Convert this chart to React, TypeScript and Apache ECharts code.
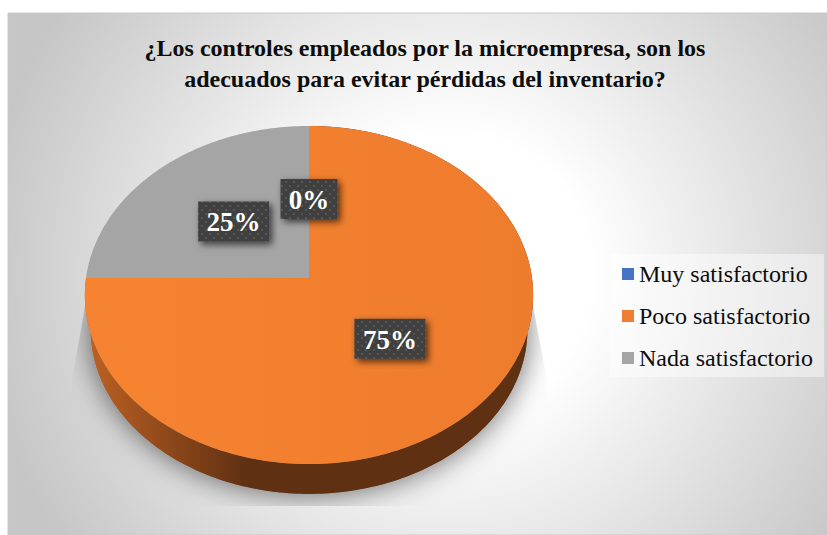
import React, { useEffect, useRef } from "react";
import * as echarts from "echarts";

const categories = ["Muy satisfactorio", "Poco satisfactorio", "Nada satisfactorio"];
const percentages = [0, 75, 25];
const colors = ["#4472C4", "#ED7D31", "#A5A5A5"];
const titleLines = [
  "¿Los controles empleados por la microempresa, son los",
  "adecuados para evitar pérdidas del inventario?",
];

const SERIF = "'Liberation Serif', 'Times New Roman', serif";
const W = 827;
const H = 535;
const CX = 309;
const CY = 278;
const R = 223;
const A = 167.3;
const Q = 0.1006;
const RIM_SCALE = 0.975;
const RIM_DROP = 34.6;
const LABEL_RADIUS = 0.495;

// Tilted disc: a point at fraction r of the radius, at a clockwise angle from 12 o'clock.
const project = (angle: number, r = 1): [number, number] => {
  const u = Math.sin(angle) * r;
  const v = Math.cos(angle) * r;
  const w = 1 + Q * v;
  return [CX + (R * u) / w, CY - (A * v) / w];
};
const lower = (p: [number, number]): [number, number] => [
  CX + RIM_SCALE * (p[0] - CX),
  CY + RIM_SCALE * (p[1] - CY) + RIM_DROP,
];
const arc = (a0: number, a1: number): [number, number][] => {
  const n = Math.max(1, Math.ceil((Math.abs(a1 - a0) * 180) / Math.PI));
  const out: [number, number][] = [];
  for (let i = 0; i <= n; i++) out.push(project(a0 + ((a1 - a0) * i) / n));
  return out;
};

const total = percentages.reduce((s, v) => s + v, 0);
const startOf = (i: number) =>
  (percentages.slice(0, i).reduce((s, v) => s + v, 0) / total) * Math.PI * 2;

const makePattern = () => {
  const c = document.createElement("canvas");
  c.width = 8;
  c.height = 8;
  const g = c.getContext("2d")!;
  g.fillStyle = "#404040";
  g.fillRect(0, 0, 8, 8);
  g.fillStyle = "#565656";
  g.fillRect(1, 1, 2, 2);
  g.fillRect(5, 5, 2, 2);
  return c;
};

export default function App() {
  const ref = useRef<HTMLDivElement>(null);
  useEffect(() => {
    const chart = echarts.init(ref.current!, undefined, { renderer: "svg" });
    const pattern = makePattern();

    const faceFill = new echarts.graphic.LinearGradient(85, 0, 533, 0, [
      { offset: 0, color: "#F58330" },
      { offset: 1, color: "#EE7C2D" },
    ], true);
    const wallFill = new echarts.graphic.LinearGradient(90, 0, 300, 0, [
      { offset: 0, color: "#BC6023" },
      { offset: 0.75, color: "#5F3012" },
      { offset: 1, color: "#5F3012" },
    ], true);

    const makeRender = (index: number) => (_params: any, api: any) => {
      const value = api.value(0) as number;
      const a0 = startOf(index);
      const a1 = a0 + (value / total) * Math.PI * 2;
      const mid = (a0 + a1) / 2;
      const children: any[] = [];

      if (value >= 50) {
        const fullRim = arc(0, Math.PI * 2).map(lower);
        children.push({
          type: "polygon",
          shape: { points: fullRim },
          style: {
            fill: "#8a8a8a",
            shadowBlur: 30,
            shadowColor: "rgba(0,0,0,0.6)",
            shadowOffsetX: 0,
            shadowOffsetY: 0,
          },
          clipPath: {
            type: "polygon",
            shape: {
              points: [[87, 295], [72, 380], [72, 506], [547, 506], [547, 380], [531, 295]],
            },
          },
        });
        const rim = arc(a0, a1);
        children.push({
          type: "polygon",
          shape: { points: [...rim, ...rim.map(lower).reverse()] },
          style: { fill: wallFill },
        });
      }
      if (value > 0) {
        children.push({
          type: "polygon",
          shape: { points: [[CX, CY], ...arc(a0, a1)] },
          style: { fill: index === 1 ? faceFill : colors[index] },
        });
      }

      const [lx, ly] = project(mid, LABEL_RADIUS);
      const text = `${value}%`;
      const bw = 29 + 14 * text.length;
      const bh = 40;
      children.push({
        type: "rect",
        shape: { x: lx - bw / 2, y: ly - bh / 2, width: bw, height: bh },
        style: {
          fill: { image: pattern, repeat: "repeat", imageWidth: 8, imageHeight: 8 },
          shadowBlur: 7,
          shadowColor: "rgba(0,0,0,0.65)",
          shadowOffsetX: 3,
          shadowOffsetY: 3,
        },
      });
      children.push({
        type: "text",
        style: {
          text,
          x: lx,
          y: ly + 1,
          fill: "#FFFFFF",
          font: `bold 27px ${SERIF}`,
          align: "center",
          verticalAlign: "middle",
        },
      });
      return { type: "group", children };
    };

    const seriesZ = [4, 2, 3];
    chart.setOption({
      animation: false,
      backgroundColor: "#FFFFFF",
      color: colors,
      title: {
        text: titleLines.join("\n"),
        left: 420,
        top: 27,
        textAlign: "center",
        textStyle: {
          fontFamily: SERIF,
          fontWeight: "bold",
          fontSize: 24,
          lineHeight: 31,
          color: "#0D0D0D",
        },
      },
      legend: {
        orient: "vertical",
        left: 610,
        top: 254,
        padding: [8, 11, 7, 12],
        itemGap: 18,
        itemWidth: 12,
        itemHeight: 12,
        icon: "rect",
        backgroundColor: "rgba(255,255,255,0.45)",
        data: categories,
        selectedMode: false,
        textStyle: {
          fontFamily: SERIF,
          fontSize: 24,
          lineHeight: 24,
          color: "#0D0D0D",
          padding: 0,
        },
      },
      graphic: [
        {
          type: "rect",
          z: -10,
          shape: { x: 8, y: 13, width: W - 8, height: H - 13 },
          style: {
            fill: new echarts.graphic.RadialGradient(450, 275, 470, [
              { offset: 0, color: "#FFFFFF" },
              { offset: 0.3, color: "#FFFFFF" },
              { offset: 1, color: "#C6C6C6" },
            ], true),
            stroke: "#C8C8C8",
            lineWidth: 1,
          },
        },
      ],
      series: categories.map((name, i) => ({
        type: "custom",
        name,
        coordinateSystem: "none",
        z: seriesZ[i],
        silent: true,
        clip: false,
        itemStyle: { color: colors[i] },
        data: [[percentages[i]]],
        renderItem: makeRender(i),
      })),
    });
    return () => chart.dispose();
  }, []);
  return (
    <div
      ref={ref}
      style={{ position: "absolute", left: 0, top: 0, width: W, height: H }}
    />
  );
}
